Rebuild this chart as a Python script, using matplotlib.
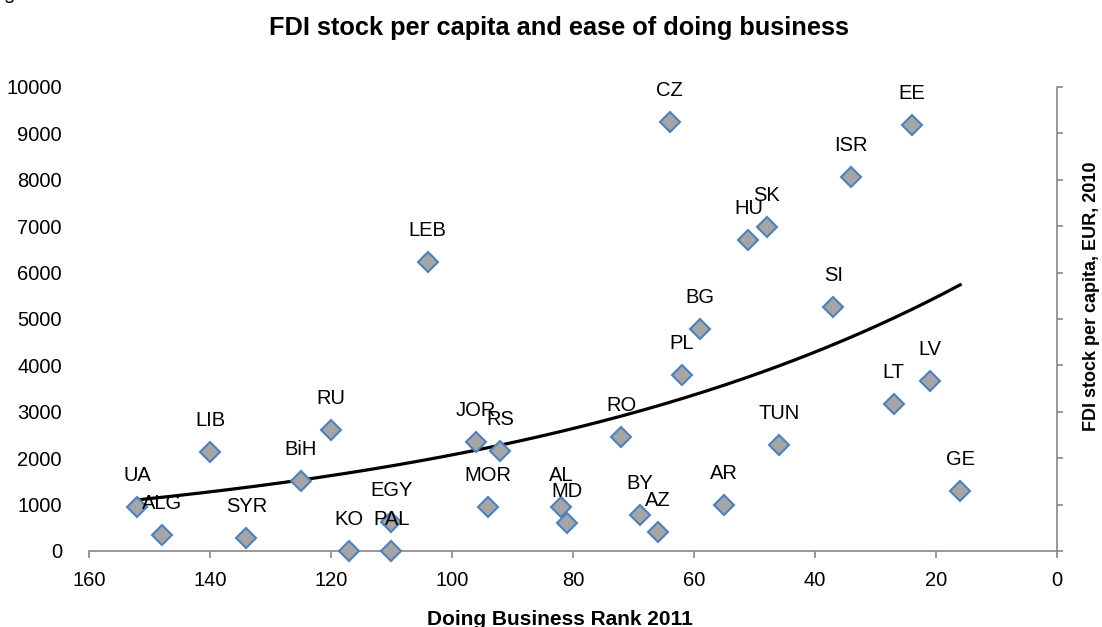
import numpy as np
import matplotlib
matplotlib.use("Agg")
import matplotlib.pyplot as plt

plt.rcParams['font.family'] = ['Liberation Sans', 'DejaVu Sans']

# data
countries = ["UA", "ALG", "LIB", "SYR", "BiH", "RU", "KO", "PAL", "EGY", "LEB",
             "JOR", "RS", "MOR", "AL", "MD", "RO", "BY", "AZ", "AR", "TUN",
             "PL", "BG", "CZ", "HU", "SK", "SI", "ISR", "EE", "LT", "LV", "GE"]
db_rank = [152, 148, 140, 134, 125, 120, 117, 110, 110, 104,
           96, 92, 94, 82, 81, 72, 69, 66, 55, 46,
           62, 59, 64, 51, 48, 37, 34, 24, 27, 21, 16]
fdi_pc = [950, 350, 2130, 270, 1500, 2600, 0, 0, 620, 6230,
          2350, 2150, 950, 950, 600, 2450, 780, 400, 1000, 2280,
          3800, 4780, 9240, 6700, 6980, 5250, 8060, 9180, 3170, 3660, 1300]

x = np.array(db_rank, dtype=float)
y = np.array(fdi_pc, dtype=float)

fig = plt.figure(figsize=(11.02, 6.27), dpi=100)
ax = fig.add_axes([89/1102, 1 - 551/627, (1057 - 89)/1102, (551 - 87)/627])

# exponential trend y = A*exp(b*x), least squares on the raw values
best = None
for b in np.linspace(-0.05, 0.0, 5001):
    e = np.exp(b*x)
    A = (y*e).sum() / (e*e).sum()
    sse = ((y - A*e)**2).sum()
    if best is None or sse < best[0]:
        best = (sse, A, b)
_, A, b = best
xt = np.linspace(x.min(), x.max(), 200)
ax.plot(xt, A*np.exp(b*xt), color='black', lw=2.3, zorder=2)

ax.plot(x, y, linestyle='none', marker='D', ms=10, mfc='#A5A5A5',
        mec='#4F81BD', mew=1.5, zorder=3, clip_on=False)

for name, xi, yi in zip(countries, x, y):
    ax.annotate(name, (xi, yi), xytext=(0, 18.7), textcoords='offset points',
                ha='center', va='baseline', fontsize=14.5, zorder=4)

ax.set_xlim(160, 0)
ax.set_ylim(0, 10000)
ax.set_xticks(np.arange(0, 161, 20))
ax.set_yticks(np.arange(0, 10001, 1000))

for s in ['top', 'left']:
    ax.spines[s].set_visible(False)
for s in ['bottom', 'right']:
    ax.spines[s].set_color('#868686')
    ax.spines[s].set_linewidth(1.2)

ax.tick_params(axis='x', direction='out', length=5, width=1.2, color='#868686',
               pad=9.5, labelsize=14.5)
ax.tick_params(axis='y', left=False, right=True, labelleft=True, labelright=False,
               direction='out', length=4.5, width=1.2, color='#868686',
               pad=15, labelsize=14.5)

# cut-off caption fragment at the top-left corner
fig.text(3/1102, 1 + 1/627, "g", ha='left', va='baseline', fontsize=14.5)

fig.text(0.507, 1 - 28/627, "FDI stock per capita and ease of doing business",
         ha='center', va='center', fontsize=18.3, fontweight='bold')
fig.text(0.508, 1 - 625/627, "Doing Business Rank 2011",
         ha='center', va='baseline', fontsize=15, fontweight='bold')
fig.text(1091/1102, 1 - 296/627, "FDI stock per capita, EUR, 2010",
         ha='center', va='center', rotation=90, fontsize=13, fontweight='bold')

fig.savefig("out.png", dpi=100)
